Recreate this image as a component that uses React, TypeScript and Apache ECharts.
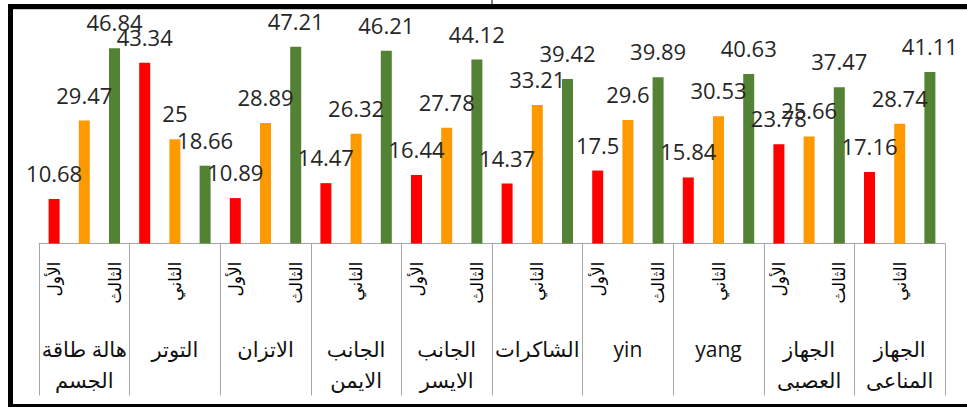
import React, { useEffect, useRef } from "react";
import * as echarts from "echarts";

const groups = [
  "هالة طاقة\nالجسم",
  "التوتر",
  "الاتزان",
  "الجانب\nالايمن",
  "الجانب\nالايسر",
  "الشاكرات",
  "yin",
  "yang",
  "الجهاز\nالعصبى",
  "الجهاز\nالمناعى",
];
const subNames = ["الأول", "الثاني", "الثالث"];
const firstValues = [10.68, 43.34, 10.89, 14.47, 16.44, 14.37, 17.5, 15.84, 23.78, 17.16];
const secondValues = [29.47, 25, 28.89, 26.32, 27.78, 33.21, 29.6, 30.53, 25.66, 28.74];
const thirdValues = [46.84, 18.66, 47.21, 46.21, 44.12, 39.42, 39.89, 40.63, 37.47, 41.11];
const colors = ["#FF0000", "#FF9900", "#548235"];

export default function App() {
  const ref = useRef<HTMLDivElement>(null);
  useEffect(() => {
    if (!ref.current) return;
    const chart = echarts.init(ref.current, null, { renderer: "svg" });
    const cats: string[] = [];
    const data: any[] = [];
    const series3 = [firstValues, secondValues, thirdValues];
    groups.forEach((g, gi) => {
      for (let k = 0; k < 3; k++) {
        cats.push(subNames[k]);
        data.push({ value: series3[k][gi], itemStyle: { color: colors[k] } });
      }
    });
    const font = "'Open Sans', 'DejaVu Sans', sans-serif";
    chart.setOption({
      animation: false,
      backgroundColor: "#ffffff",
      grid: { left: 39, right: 22, top: 35, bottom: 163.5, containLabel: false },
      xAxis: [
        {
          type: "category",
          data: cats,
          position: "bottom",
          axisLine: { show: true, lineStyle: { color: "#a6a6a6", width: 1 } },
          axisTick: { show: false },
          axisLabel: {
            interval: 1,
            rotate: 90,
            margin: 18,
            fontSize: 17,
            color: "#000",
            fontFamily: "'DejaVu Sans', sans-serif",
          },
          splitLine: { show: false },
        },
        {
          type: "category",
          data: groups,
          position: "bottom",
          offset: 0,
          axisLine: { show: false },
          axisTick: { show: true, length: 152, lineStyle: { color: "#a6a6a6", width: 1 } },
          axisLabel: {
            interval: 0,
            margin: 90,
            fontSize: 21,
            lineHeight: 31,
            color: "#111",
            fontFamily: font,
            verticalAlign: "top",
          },
          splitLine: { show: false },
        },
      ],
      yAxis: { type: "value", min: 0, max: 50, show: false, splitLine: { show: false } },
      series: [
        {
          type: "bar",
          xAxisIndex: 0,
          data,
          barWidth: 11,
          label: {
            show: true,
            position: "top",
            distance: 15,
            fontSize: 22,
            color: "#262626",
            fontFamily: font,
          },
        },
      ],
      graphic: [
        { type: "rect", shape: { x: 8, y: 4, width: 959, height: 5 }, style: { fill: "#000" } },
        { type: "rect", shape: { x: 8, y: 4, width: 5, height: 403 }, style: { fill: "#000" } },
        { type: "rect", shape: { x: 8, y: 404, width: 959, height: 3 }, style: { fill: "#000" } },
        { type: "line", shape: { x1: 13, y1: 9.5, x2: 967, y2: 9.5 }, style: { stroke: "#c8c8c8", lineWidth: 1 } },
        { type: "line", shape: { x1: 492, y1: 0, x2: 492, y2: 4 }, style: { stroke: "#000", lineWidth: 1 } },
      ],
    });
    return () => chart.dispose();
  }, []);
  return (
    <div
      ref={ref}
      style={{ position: "fixed", left: 0, top: 0, width: 967, height: 407, background: "#fff" }}
    />
  );
}
